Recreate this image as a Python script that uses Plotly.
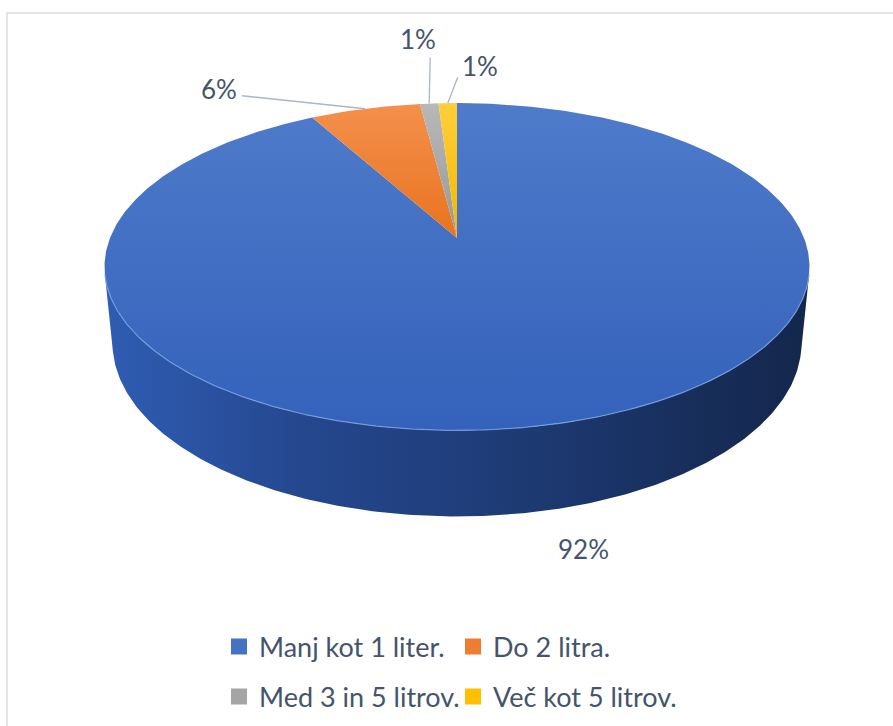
import numpy as np
import plotly.graph_objects as go

# ---- data ----
categories = ["Manj kot 1 liter.", "Do 2 litra.", "Med 3 in 5 litrov.", "Več kot 5 litrov."]
shares = [92, 6, 1, 1]
value_labels = ["92%", "6%", "1%", "1%"]

# ---- styling ----
legend_colors = ["#4472C4", "#ED7D31", "#A5A5A5", "#FFC000"]
top_gradients = [
    ["#3461BA", "#4F7BCB"],
    ["#E8731F", "#F4904B"],
    ["#989898", "#B8B8B8"],
    ["#F2B700", "#FFCF3A"],
]
side_gradients = [
    [[0, "#2F5DB3"], [0.3, "#24468C"], [0.6, "#1D3A73"], [1, "#14264B"]],
    [[0, "#B85A18"], [0.5, "#9C4A12"], [1, "#7A380C"]],
    [[0, "#8A8A8A"], [0.5, "#707070"], [1, "#555555"]],
    [[0, "#D9A200"], [0.5, "#B88900"], [1, "#8F6A00"]],
]
TEXT_COLOR = "#44546A"
LEADER_COLOR = "#A9B6C8"
FONT = "Lato"

# label placement relative to each slice's anchor point on the rim (screen px, y up)
label_offsets = [(25, -40), (-146, 20), (-11, 65), (32, 37)]
leader_tails = [None, (-123, 13), (1, 46), (10, 26)]
label_on_bottom_rim = [True, False, False, False]

# ---- simple perspective camera for the tilted pie ----
ELEV = np.radians(27.2)
DIST = 5.06
THICK = 0.25
SCALE = 347.0


def project(theta, z):
    theta = np.asarray(theta, dtype=float)
    X = np.sin(theta)
    Y = np.cos(theta)
    c, s = np.cos(ELEV), np.sin(ELEV)
    depth = DIST + Y * c - z * s
    up = Y * s + z * c
    return SCALE * X * DIST / depth, SCALE * up * DIST / depth


total = float(sum(shares))
bounds = 2 * np.pi * np.concatenate([[0.0], np.cumsum(shares) / total])
alpha = np.arccos(1.0 / (DIST * np.cos(ELEV)))
vis_lo, vis_hi = np.pi - alpha, np.pi + alpha

fig = go.Figure()

# outer side walls (only the part facing the viewer)
for i in range(len(shares)):
    a0, a1 = max(bounds[i], vis_lo), min(bounds[i + 1], vis_hi)
    if a1 <= a0:
        continue
    th = np.linspace(a0, a1, 240)
    xt, yt = project(th, 0.0)
    xb, yb = project(th[::-1], -THICK)
    xs = np.concatenate([xt, xb, xt[:1]])
    ys = np.concatenate([yt, yb, yt[:1]])
    fig.add_trace(go.Scatter(
        x=xs, y=ys, mode="lines", fill="toself", line=dict(width=0),
        fillgradient=dict(type="horizontal", colorscale=side_gradients[i]),
        hoverinfo="skip", showlegend=False))

# top faces of the slices
for i in range(len(shares)):
    n = max(8, int(600 * shares[i] / total))
    th = np.linspace(bounds[i], bounds[i + 1], n)
    xa, ya = project(th, 0.0)
    xs = np.concatenate([[0.0], xa, [0.0]])
    ys = np.concatenate([[0.0], ya, [0.0]])
    cs = top_gradients[i]
    fig.add_trace(go.Scatter(
        x=xs, y=ys, mode="lines", fill="toself", line=dict(width=0),
        fillgradient=dict(type="vertical", colorscale=[[0, cs[0]], [1, cs[1]]]),
        hovertemplate=f"{categories[i]}: {value_labels[i]}<extra></extra>",
        showlegend=False))

# light rim along the front edge of the top face
th = np.linspace(vis_lo, vis_hi, 300)
xr, yr = project(th, 0.0)
fig.add_trace(go.Scatter(x=xr, y=yr, mode="lines",
                         line=dict(color="rgba(120,160,225,0.85)", width=1.2),
                         hoverinfo="skip", showlegend=False))

# value labels and leader lines
annotations = []
for i in range(len(shares)):
    mid = 0.5 * (bounds[i] + bounds[i + 1])
    z = -THICK if label_on_bottom_rim[i] else 0.0
    px, py = project(mid, z)
    px, py = float(px), float(py)
    if leader_tails[i] is not None:
        tx, ty = leader_tails[i]
        fig.add_trace(go.Scatter(x=[px, px + tx], y=[py, py + ty], mode="lines",
                                 line=dict(color=LEADER_COLOR, width=1.3),
                                 hoverinfo="skip", showlegend=False))
    ox, oy = label_offsets[i]
    annotations.append(dict(x=px + ox, y=py + oy, text=value_labels[i], showarrow=False,
                            xref="x", yref="y", xanchor="center", yanchor="middle",
                            font=dict(family=FONT, size=26, color=TEXT_COLOR)))

# legend entries, two per row
for i, name in enumerate(categories):
    fig.add_trace(go.Scatter(
        x=[None], y=[None], mode="markers", name=name,
        marker=dict(symbol="square", size=17, color=legend_colors[i]),
        legend="legend" if i < 2 else "legend2"))

W, H = 893, 726
CX, CY = 457, 238
legend_common = dict(orientation="h", xanchor="left", yanchor="middle",
                     entrywidth=189, entrywidthmode="pixels", itemsizing="trace",
                     font=dict(family=FONT, size=27, color=TEXT_COLOR),
                     bgcolor="rgba(0,0,0,0)", borderwidth=0, itemclick=False,
                     itemdoubleclick=False)

fig.update_layout(
    width=W, height=H,
    margin=dict(l=0, r=0, t=0, b=0),
    paper_bgcolor="white", plot_bgcolor="white",
    xaxis=dict(range=[-CX, W - CX], visible=False, fixedrange=True),
    yaxis=dict(range=[CY - H, CY], visible=False, fixedrange=True),
    annotations=annotations,
    legend=dict(x=219 / W, y=1 - 647 / H, **legend_common),
    legend2=dict(x=219 / W, y=1 - 697 / H, **legend_common),
    shapes=[dict(type="rect", xref="paper", yref="paper",
                 x0=7 / W, x1=1.05, y0=-0.05, y1=1 - 13 / H,
                 line=dict(color="#D9DEE5", width=1.5), layer="below")],
    showlegend=True,
)

fig.write_html("out.html")
